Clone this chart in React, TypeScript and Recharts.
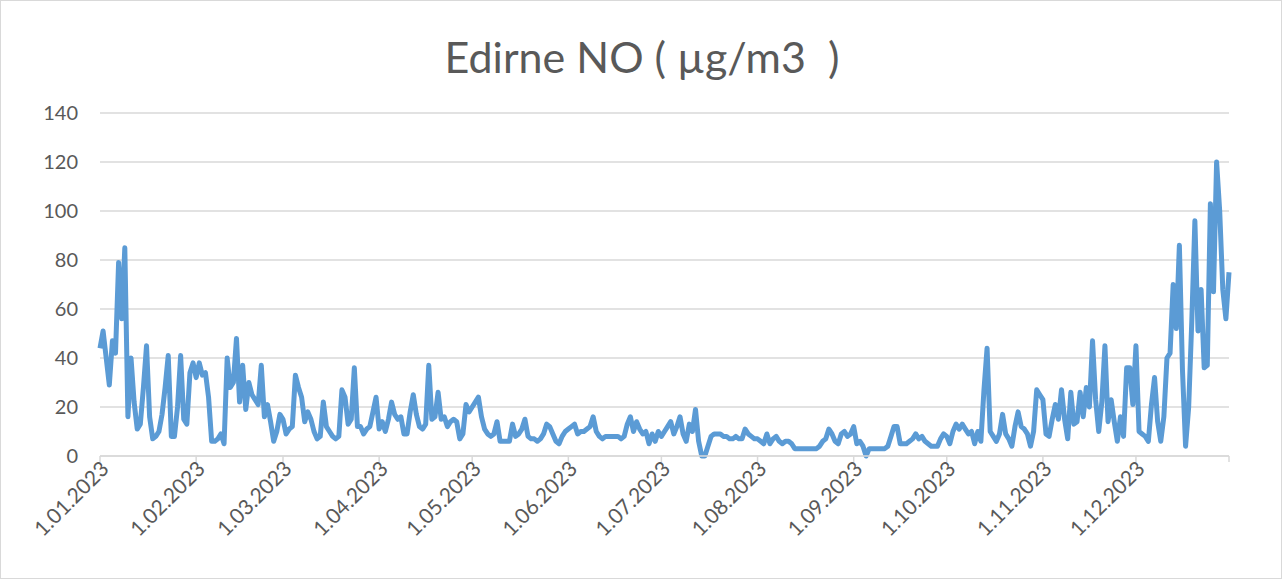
import React from 'react';
import { LineChart, Line, XAxis, YAxis, CartesianGrid } from 'recharts';

// daily NO values (µg/m3), one array per month
const jan = [44, 51, 40, 29, 47, 42, 79, 56, 85, 16, 40, 22, 11, 13, 28, 45, 16, 7, 8, 10, 17, 28, 41, 8, 8, 20, 41, 15, 13, 34, 38];
const feb = [32, 38, 33, 34, 24, 6, 6, 7, 9, 5, 40, 28, 30, 48, 22, 37, 19, 30, 25, 23, 21, 37, 16, 21, 14, 6, 10, 17];
const mar = [15, 9, 11, 12, 33, 28, 24, 14, 18, 15, 10, 7, 8, 22, 12, 10, 8, 7, 8, 27, 24, 13, 15, 36, 12, 12, 9, 11, 12, 18, 24];
const apr = [11, 14, 10, 15, 22, 17, 15, 16, 9, 9, 18, 25, 17, 12, 11, 13, 37, 15, 16, 26, 15, 16, 12, 14, 15, 14, 7, 9, 21, 18];
const may = [20, 22, 24, 16, 11, 9, 8, 9, 14, 6, 6, 6, 6, 13, 8, 9, 11, 15, 8, 7, 7, 6, 7, 9, 13, 12, 9, 6, 5, 8, 10];
const jun = [11, 12, 13, 9, 10, 10, 11, 12, 16, 10, 8, 7, 8, 8, 8, 8, 8, 7, 8, 13, 16, 10, 14, 11, 9, 10, 5, 9, 6, 10];
const jul = [8, 10, 12, 14, 9, 12, 16, 9, 6, 13, 10, 19, 6, 0, 0, 4, 8, 9, 9, 9, 8, 8, 7, 7, 8, 7, 7, 11, 9, 8, 7];
const aug = [7, 6, 5, 9, 5, 7, 8, 6, 5, 6, 6, 5, 3, 3, 3, 3, 3, 3, 3, 3, 4, 6, 7, 11, 9, 6, 5, 9, 10, 8, 9];
const sep = [12, 5, 6, 4, 0, 3, 3, 3, 3, 3, 3, 4, 8, 12, 12, 5, 5, 5, 6, 7, 9, 7, 8, 6, 5, 4, 4, 4, 7, 9];
const oct = [8, 5, 10, 13, 11, 13, 11, 9, 10, 5, 10, 6, 27, 44, 10, 8, 6, 9, 17, 9, 7, 4, 12, 18, 12, 11, 9, 4, 10, 27, 25];
const nov = [23, 9, 8, 15, 21, 15, 27, 15, 7, 26, 13, 14, 26, 16, 28, 20, 47, 23, 10, 22, 45, 14, 23, 14, 6, 16, 8, 36, 36, 21];
const dec = [45, 10, 9, 8, 6, 21, 32, 14, 6, 16, 40, 42, 70, 52, 86, 35, 4, 20, 55, 96, 51, 68, 36, 37, 103, 67, 120, 100, 68, 56, 75];

const monthLabels = ['1.01.2023', '1.02.2023', '1.03.2023', '1.04.2023', '1.05.2023', '1.06.2023',
  '1.07.2023', '1.08.2023', '1.09.2023', '1.10.2023', '1.11.2023', '1.12.2023'];
const yTicks = [0, 20, 40, 60, 80, 100, 120, 140];

const months = [jan, feb, mar, apr, may, jun, jul, aug, sep, oct, nov, dec];
const monthStarts: number[] = [];
let acc = 0;
months.forEach(m => { monthStarts.push(acc); acc += m.length; });
const lastDay = acc - 1;

const data = months.flat().map((v, i) => ({ day: i, no: v }));

const TEXT = '#595959';
const GRID = '#d9d9d9';
const FONT = 'Lato, "Open Sans", sans-serif';

const DateTick = (props: any) => {
  const { x, y, payload } = props;
  const idx = monthStarts.indexOf(payload.value);
  if (idx < 0) return null;
  return (
    <g transform={`translate(${x + 5},${y + 1})`}>
      <text x={0} y={0} dy="0.35em" textAnchor="end" transform="rotate(-45)"
        fill={TEXT} fontSize={21} fontFamily={FONT}>
        {monthLabels[idx]}
      </text>
    </g>
  );
};

export default function App() {
  return (
    <div style={{
      position: 'absolute', left: 0, top: 0, width: 1282, height: 579,
      background: '#fff', border: `1px solid ${GRID}`, boxSizing: 'border-box', fontFamily: FONT,
    }}>
      <div style={{
        position: 'absolute', top: 28, left: 0, width: 1282, textAlign: 'center',
        fontSize: 43, color: TEXT, lineHeight: '56px',
      }}>
        Edirne NO ( µg/m3&nbsp; )
      </div>
      <div style={{ position: 'absolute', left: -1, top: -1 }}>
        <LineChart width={1282} height={579} data={data}
          margin={{ top: 113, right: 53, bottom: 23, left: 40 }}>
          <CartesianGrid vertical={false} stroke={GRID} strokeWidth={1.5} />
          <XAxis type="number" dataKey="day" domain={[0, lastDay]}
            ticks={[...monthStarts, lastDay]} interval={0} height={100}
            axisLine={{ stroke: GRID, strokeWidth: 1.5 }} tickLine={{ stroke: GRID, strokeWidth: 1.5 }}
            tickSize={6} tick={<DateTick />} />
          <YAxis type="number" domain={[0, 140]} ticks={yTicks} width={60}
            axisLine={false} tickLine={false} tickMargin={16}
            tick={{ fill: TEXT, fontSize: 20, fontFamily: FONT }} />
          <Line type="linear" dataKey="no" stroke="#5b9bd5" strokeWidth={5}
            strokeLinejoin="round" dot={false} isAnimationActive={false} />
        </LineChart>
      </div>
    </div>
  );
}
